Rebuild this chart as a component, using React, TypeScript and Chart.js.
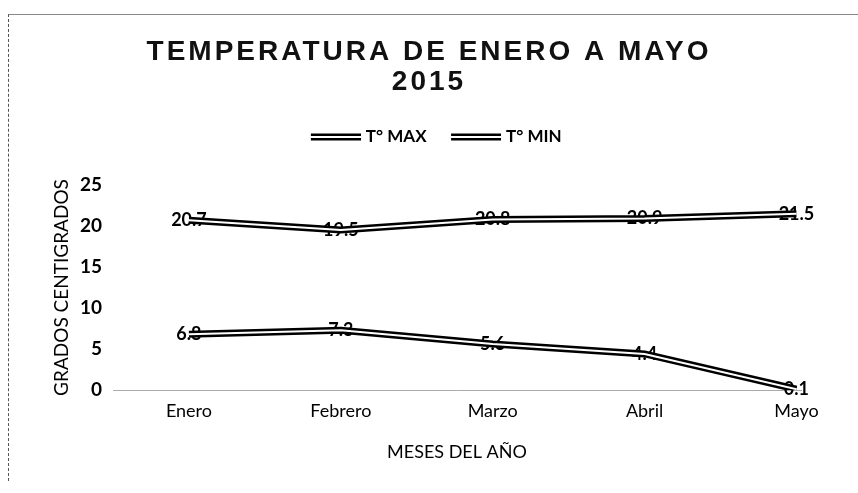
import React, { useEffect, useRef } from 'react';
import { Chart, registerables } from 'chart.js';

Chart.register(...registerables);

const categories = ['Enero', 'Febrero', 'Marzo', 'Abril', 'Mayo'];
const seriesNames = ['T° MAX', 'T° MIN'];
const tMax = [20.7, 19.5, 20.8, 20.9, 21.5];
const tMin = [6.8, 7.3, 5.6, 4.4, 0.1];
const yTickValues = [0, 5, 10, 15, 20, 25];
const titleLines = ['TEMPERATURA DE ENERO A MAYO', '2015'];
const xTitle = 'MESES DEL AÑO';
const yTitle = 'GRADOS CENTIGRADOS';

const FONT = 'Lato, sans-serif';
const LEGEND_GAP = 29.5;

function makeLegendSymbol(): HTMLCanvasElement {
  const c = document.createElement('canvas');
  c.width = 68;
  c.height = 10;
  const g = c.getContext('2d')!;
  g.fillStyle = '#000';
  g.fillRect(18, 1.5, 50, 7);
  g.fillStyle = '#fff';
  g.fillRect(18, 4, 50, 2);
  return c;
}

const tweaks = {
  id: 'tweaks',
  beforeLayout(chart: any) {
    const lg = chart.legend;
    if (lg && !lg._patched) {
      const orig = lg.fit.bind(lg);
      lg.fit = () => {
        orig();
        lg.height += LEGEND_GAP;
      };
      lg._patched = true;
    }
  },
  beforeDraw(chart: any) {
    const tb = chart.titleBlock;
    if (tb && !tb._patched) {
      const orig = tb.draw.bind(tb);
      tb.draw = (...a: any[]) => {
        const ctx: any = chart.ctx;
        const prev = ctx.letterSpacing;
        ctx.letterSpacing = '3px';
        orig(...a);
        ctx.letterSpacing = prev || '0px';
      };
      tb._patched = true;
    }
  },
  beforeDatasetsDraw(chart: any) {
    const ctx = chart.ctx;
    ctx.save();
    ctx.font = `bold 18px ${FONT}`;
    ctx.fillStyle = '#000';
    ctx.textAlign = 'center';
    ctx.textBaseline = 'middle';
    chart.data.datasets.forEach((ds: any, i: number) => {
      if (!ds.valueLabels) return;
      const meta = chart.getDatasetMeta(i);
      meta.data.forEach((pt: any, j: number) => {
        ctx.fillText(ds.data[j].y.toFixed(1), pt.x, pt.y);
      });
    });
    ctx.restore();
  },
};

export default function App() {
  const ref = useRef<HTMLCanvasElement | null>(null);

  useEffect(() => {
    if (!ref.current) return;
    const sym = makeLegendSymbol();
    const mk = (vals: number[]) => categories.map((_, i) => ({ x: i, y: vals[i] }));
    const chart = new Chart(ref.current, {
      type: 'line',
      data: {
        datasets: [
          { label: seriesNames[0], data: mk(tMax), borderColor: '#000', borderWidth: 7, pointRadius: 0, order: 2, valueLabels: true } as any,
          { label: seriesNames[1], data: mk(tMin), borderColor: '#000', borderWidth: 7, pointRadius: 0, order: 3, valueLabels: true } as any,
          { label: seriesNames[0], data: mk(tMax), borderColor: '#fff', borderWidth: 2, pointRadius: 0, order: 0, inner: true } as any,
          { label: seriesNames[1], data: mk(tMin), borderColor: '#fff', borderWidth: 2, pointRadius: 0, order: 1, inner: true } as any,
        ],
      },
      options: {
        animation: false,
        responsive: true,
        maintainAspectRatio: false,
        layout: { padding: 0 },
        plugins: {
          tooltip: { enabled: false },
          title: {
            display: true,
            text: titleLines,
            color: '#111',
            font: { family: '"Liberation Sans", Arial, sans-serif', size: 28, weight: 'bold', lineHeight: 30 / 28 },
            padding: { top: 37, bottom: 21.5 },
          },
          legend: {
            display: true,
            position: 'top',
            labels: {
              usePointStyle: true,
              pointStyle: sym as any,
              pointStyleWidth: 61,
              padding: 10,
              color: '#000',
              font: { family: FONT, size: 17, weight: 'bold' },
              filter: (item: any, data: any) => !data.datasets[item.datasetIndex].inner,
            },
          },
        },
        scales: {
          x: {
            type: 'linear',
            min: -0.5,
            max: 4.03,
            afterBuildTicks: (s: any) => {
              s.ticks = categories.map((_, i) => ({ value: i }));
            },
            afterFit: (s: any) => {
              s.height = 103;
            },
            ticks: {
              callback: (v: any) => categories[v] ?? '',
              autoSkip: false,
              maxRotation: 0,
              padding: 10,
              color: '#000',
              font: { family: FONT, size: 18 },
            },
            grid: { display: false, drawTicks: false },
            border: { display: true, color: '#aaa', width: 1, dash: [2, 3] },
            title: {
              display: true,
              text: xTitle,
              color: '#000',
              font: { family: FONT, size: 18 },
              padding: { top: 0, bottom: 30 },
            },
          },
          y: {
            min: 0,
            max: 25,
            afterBuildTicks: (s: any) => {
              s.ticks = yTickValues.map((v) => ({ value: v }));
            },
            afterFit: (s: any) => {
              s.width = 113;
            },
            ticks: {
              padding: 11,
              color: '#000',
              font: { family: FONT, size: 19, weight: 'bold' },
            },
            grid: { display: false, drawTicks: false },
            border: { display: false },
            title: {
              display: true,
              text: yTitle,
              color: '#000',
              font: { family: FONT, size: 19 },
              padding: { top: 50, bottom: 0 },
            },
          },
          yRight: {
            type: 'linear',
            position: 'right',
            display: true,
            min: 0,
            max: 25,
            afterFit: (s: any) => {
              s.width = 57;
            },
            ticks: { display: false },
            grid: { display: false, drawTicks: false },
            border: { display: false },
          },
        },
      },
      plugins: [tweaks],
    });
    return () => chart.destroy();
  }, []);

  return (
    <div style={{ position: 'fixed', left: 0, top: 0, width: 858, height: 493, background: '#fff', overflow: 'hidden' }}>
      <div
        style={{
          position: 'absolute',
          left: 8,
          top: 14,
          width: 860,
          height: 466,
          borderTop: '1px solid #888',
          borderLeft: '1px dashed #555',
          pointerEvents: 'none',
        }}
      />
      <div style={{ position: 'absolute', left: 0, top: 0, width: 858, height: 493 }}>
        <canvas ref={ref} />
      </div>
    </div>
  );
}
